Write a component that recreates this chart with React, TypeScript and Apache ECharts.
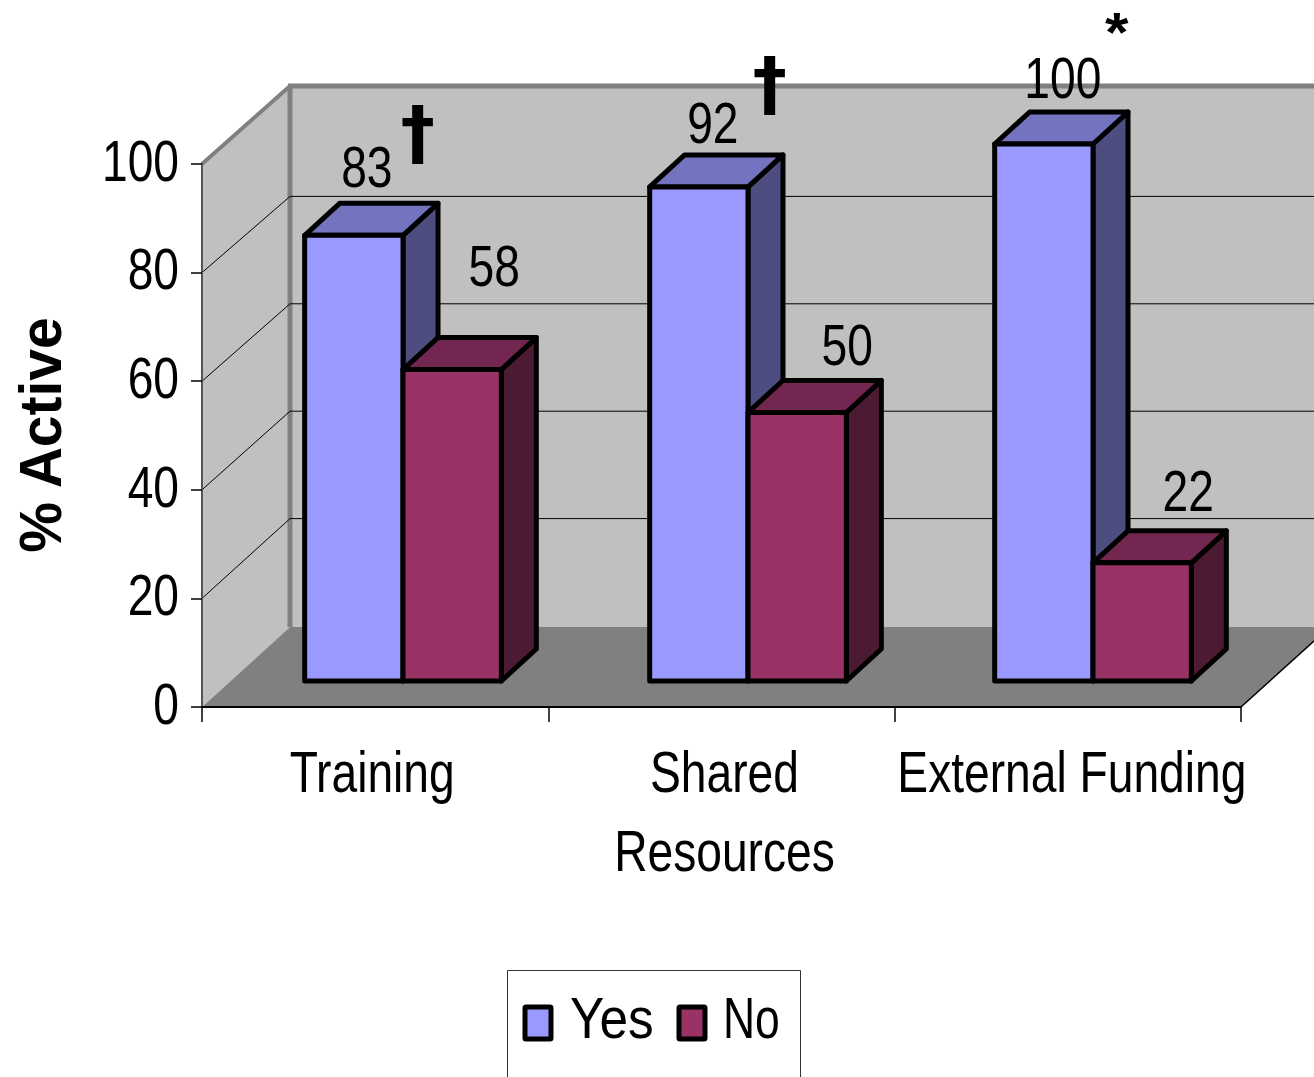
import React, { useEffect, useRef } from "react";
import * as echarts from "echarts";

const categories = ["Training", "Shared\nResources", "External Funding"];
const yesValues = [83, 92, 100];
const noValues = [58, 50, 22];
const gridValues = [20, 40, 60, 80];
const tickLabels = [0, 20, 40, 60, 80, 100];
const significance = ["†", "†", "*"];

// Label nudges relative to each bar's top centre.
const yesLabelOffsets = [[13, -68], [14, -64], [19, -66]];
const noLabelOffsets = [[42, -103], [50, -67], [46, -72]];
const markOffsets = [[64, -103], [71, -104], [73, -112.5]];
const categoryNudges = [-3, 3, 4];

const W = 1314;
const H = 1077;
const FRONT = { left: 202, right: 1241, top: 164, bottom: 707 };
const BARS = { left: 230.5, right: 1265.5, top: 144, bottom: 681 };
const BACK_X = 290;
const BACK_LIFT = 55; // back wall sits this far above the bar plane
const DEPTH_X = 35;
const DEPTH_Y = 32;
const BAR_SHARE = 0.285;

const SANS = '"Liberation Sans", Arial, sans-serif';
const TEXT_SIZE = 57;
const TEXT_FONT = `${TEXT_SIZE}px ${SANS}`;
const NARROW = 0.81; // the chart's lettering is horizontally condensed

const YES = { front: "#9999FF", top: "#7373BF", side: "#4D4D80" };
const NO = { front: "#993366", top: "#732650", side: "#4D1A33" };
const EDGE = { stroke: "#000", lineWidth: 5, lineJoin: "round" };

function poly(points: number[][], fill: string) {
  return { type: "polygon", shape: { points }, style: { fill, ...EDGE } };
}

function label(
  text: string, x: number, y: number, font: string,
  scaleX = 1, align = "center", valign = "middle", lineHeight?: number,
) {
  return {
    type: "text", x, y, scaleX,
    style: {
      text, font, fill: "#000", lineHeight,
      align, verticalAlign: valign,
      textAlign: align, textVerticalAlign: valign,
    },
  };
}

function markLabel(mark: string, x: number, y: number) {
  return mark === "*"
    ? label(mark, x, y, `bold 56px ${SANS}`, 1.08)
    : label(mark, x, y, `bold 72px "DejaVu Sans", ${SANS}`, 0.95);
}

// One extruded bar: side and top faces first, then the front face and its texts.
function barRenderer(colors: typeof YES, sign: number, offsets: number[][], marks: string[] | null) {
  return (params: any, api: any) => {
    const i = params.dataIndex;
    const v = api.value(1);
    const [cx, top] = api.coord([i, v]);
    const [, base] = api.coord([i, 0]);
    const w = api.size([1, 0])[0] * BAR_SHARE;
    const x0 = sign < 0 ? cx - w : cx;
    const x1 = x0 + w;
    const children: any[] = [
      poly([[x1, top], [x1 + DEPTH_X, top - DEPTH_Y], [x1 + DEPTH_X, base - DEPTH_Y], [x1, base]], colors.side),
      poly([[x0, top], [x0 + DEPTH_X, top - DEPTH_Y], [x1 + DEPTH_X, top - DEPTH_Y], [x1, top]], colors.top),
      poly([[x0, top], [x1, top], [x1, base], [x0, base]], colors.front),
    ];
    const mid = (x0 + x1) / 2;
    children.push(label(String(v), mid + offsets[i][0], top + offsets[i][1], TEXT_FONT, NARROW));
    if (marks) {
      children.push(markLabel(marks[i], mid + markOffsets[i][0], top + markOffsets[i][1]));
    }
    return { type: "group", children };
  };
}

// Side wall, back wall and floor of the chart box.
function renderWalls() {
  const backTop = 86;
  const backBottom = 627;
  const edge = { stroke: "#808080", lineWidth: 5 };
  return {
    type: "group",
    children: [
      { type: "polygon", shape: { points: [[FRONT.left, FRONT.top], [BACK_X, backTop], [BACK_X, backBottom], [FRONT.left, FRONT.bottom]] }, style: { fill: "#C0C0C0" } },
      { type: "rect", shape: { x: BACK_X, y: backTop, width: W - BACK_X, height: backBottom - backTop }, style: { fill: "#C0C0C0" } },
      { type: "polygon", shape: { points: [[FRONT.left, FRONT.bottom], [BACK_X, backBottom], [W, backBottom], [W, 641], [FRONT.right, FRONT.bottom]] }, style: { fill: "#808080" } },
      { type: "line", shape: { x1: FRONT.left, y1: FRONT.top, x2: BACK_X, y2: backTop }, style: { ...edge, lineWidth: 4 } },
      { type: "line", shape: { x1: BACK_X - 2, y1: backTop, x2: W, y2: backTop }, style: edge },
      { type: "line", shape: { x1: BACK_X, y1: backTop, x2: BACK_X, y2: backBottom }, style: edge },
      { type: "line", shape: { x1: FRONT.right, y1: FRONT.bottom, x2: W, y2: 641 }, style: { stroke: "#000", lineWidth: 1.5 } },
    ],
  };
}

// Gridline running along the side wall, then across the back wall.
function renderGridline(_params: any, api: any) {
  const v = api.value(0);
  const [, barY] = api.coord([0, v]);
  const frontScale = (FRONT.bottom - FRONT.top) / (BARS.bottom - BARS.top);
  const frontY = FRONT.bottom - (BARS.bottom - barY) * frontScale;
  const backY = barY - BACK_LIFT;
  return {
    type: "polyline",
    shape: { points: [[FRONT.left, frontY], [BACK_X, backY], [W, backY]] },
    style: { stroke: "#000", lineWidth: 1, fill: "none" },
  };
}

// Condensed tick labels: ECharts axis labels cannot be squeezed horizontally.
function renderValueTick(_params: any, api: any) {
  const v = api.value(0);
  const [, y] = api.coord([0, v]);
  return label(String(v), 179, y - 3, TEXT_FONT, NARROW, "right");
}

function renderCategoryLabel(params: any, api: any) {
  const i = params.dataIndex;
  const [x] = api.coord([i, 0]);
  return label(categories[i], x + categoryNudges[i], 733, TEXT_FONT, NARROW, "center", "top", 79);
}

const axisTitle = {
  ...label("% Active", 40, 435, `bold 60px ${SANS}`, 0.95),
  rotation: Math.PI / 2,
};

const legendGraphic = [
  { type: "rect", shape: { x: 507.5, y: 970.5, width: 293, height: 130 }, style: { fill: "#fff", stroke: "#333", lineWidth: 1 } },
  { type: "rect", shape: { x: 525, y: 1007, width: 26, height: 32, r: 1 }, style: { fill: YES.front, ...EDGE } },
  { type: "rect", shape: { x: 679, y: 1007, width: 26, height: 32, r: 1 }, style: { fill: NO.front, ...EDGE } },
  label("Yes", 570, 1018, TEXT_FONT, 0.9, "left"),
  label("No", 723, 1018, TEXT_FONT, 0.78, "left"),
  axisTitle,
];

export default function App() {
  const ref = useRef<HTMLDivElement>(null);

  useEffect(() => {
    const chart = echarts.init(ref.current!, undefined, { renderer: "svg" });
    chart.setOption({
      animation: false,
      backgroundColor: "#fff",
      graphic: legendGraphic,
      grid: [
        { left: FRONT.left, top: FRONT.top, width: FRONT.right - FRONT.left, height: FRONT.bottom - FRONT.top, outerBoundsMode: "none" },
        { left: BARS.left, top: BARS.top, width: BARS.right - BARS.left, height: BARS.bottom - BARS.top, outerBoundsMode: "none" },
      ],
      xAxis: [
        {
          type: "category", gridIndex: 0, data: categories, z: 5,
          axisLine: { lineStyle: { color: "#000", width: 2 } },
          axisTick: { show: true, length: 15, lineStyle: { color: "#000", width: 1.5 } },
          axisLabel: { show: false },
        },
        { type: "category", gridIndex: 1, data: categories, show: false },
      ],
      yAxis: [
        {
          type: "value", gridIndex: 0, min: 0, max: 100, interval: 20, z: 5,
          axisLine: { show: true, lineStyle: { color: "#555", width: 2 } },
          axisTick: { show: true, length: 11, lineStyle: { color: "#000", width: 1.5 } },
          axisLabel: { show: false },
          splitLine: { show: false },
        },
        { type: "value", gridIndex: 1, min: 0, max: 100, show: false, splitLine: { show: false } },
      ],
      series: [
        { name: "walls", type: "custom", xAxisIndex: 0, yAxisIndex: 0, z: 1, silent: true, data: [0], renderItem: renderWalls },
        {
          name: "gridlines", type: "custom", xAxisIndex: 1, yAxisIndex: 1, z: 2, silent: true,
          encode: { x: 0, y: 0 },
          data: gridValues, renderItem: renderGridline,
        },
        {
          name: "value ticks", type: "custom", xAxisIndex: 0, yAxisIndex: 0, z: 6, silent: true,
          encode: { x: 0, y: 0 },
          data: tickLabels, renderItem: renderValueTick,
        },
        {
          name: "category labels", type: "custom", xAxisIndex: 0, yAxisIndex: 0, z: 6, silent: true,
          data: categories.map((_, i) => i), renderItem: renderCategoryLabel,
        },
        {
          name: "Yes", type: "custom", xAxisIndex: 1, yAxisIndex: 1, z: 3,
          encode: { x: 0, y: 1 },
          data: yesValues.map((v, i) => [i, v]),
          renderItem: barRenderer(YES, -1, yesLabelOffsets, significance),
        },
        {
          name: "No", type: "custom", xAxisIndex: 1, yAxisIndex: 1, z: 4,
          encode: { x: 0, y: 1 },
          data: noValues.map((v, i) => [i, v]),
          renderItem: barRenderer(NO, 1, noLabelOffsets, null),
        },
      ],
    });
    return () => chart.dispose();
  }, []);

  return <div ref={ref} style={{ position: "fixed", left: 0, top: 0, width: W, height: H }} />;
}
